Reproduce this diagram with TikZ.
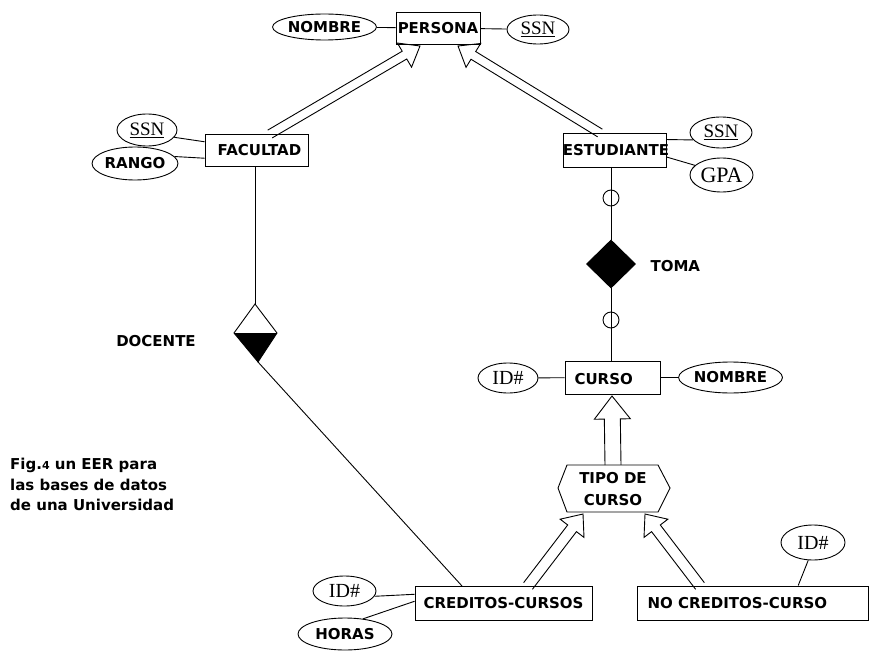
\documentclass[tikz,border=0pt]{standalone}
\usepackage{fontspec}
\usetikzlibrary{calc,shapes.geometric}
\newfontfamily\lbl{DejaVu Sans}
\newfontfamily\srf{Liberation Serif}
\newcommand\harrow[6]{%
 \coordinate (#1p) at ($(#3)!#5!(#2)$);
 \coordinate (#1l0) at ($(#2)!#4!90:(#3)$);
 \coordinate (#1l1) at ($(#1p)!#4!-90:(#2)$);
 \coordinate (#1l2) at ($(#1p)!#6!-90:(#2)$);
 \coordinate (#1r0) at ($(#2)!#4!-90:(#3)$);
 \coordinate (#1r1) at ($(#1p)!#4!90:(#2)$);
 \coordinate (#1r2) at ($(#1p)!#6!90:(#2)$);
 \draw[ln] (#1l0) -- (#1l1) -- (#1l2) -- (#3) -- (#1r2) -- (#1r1) -- (#1r0);
}
\tikzset{
 ln/.style={line width=0.9pt, line join=miter},
 ent/.style={draw, line width=0.9pt, inner sep=0pt, font=\lbl\bfseries\fontsize{15}{17}\selectfont},
 att/.style={draw, ellipse, line width=0.9pt, inner sep=0pt},
 bl/.style={font=\lbl\bfseries\fontsize{15}{17}\selectfont},
 sf/.style={font=\srf\fontsize{19}{21}\selectfont},
 ring/.style={draw, circle, line width=0.9pt, minimum size=16pt, inner sep=0pt},
}
\begin{document}
\begin{tikzpicture}[x=1pt,y=-1pt]
\useasboundingbox (0,0) rectangle (875,655);
% entities
\node[ent, minimum width=84pt, minimum height=32pt] (persona) at (438,28) {PERSONA};
\node[ent, minimum width=103pt, minimum height=32pt] (facultad) at (256.5,150) {\makebox[0pt]{\hspace*{6pt}FACULTAD}};
\node[ent, minimum width=103pt, minimum height=34pt] (estudiante) at (614.5,150) {\makebox[0pt]{\hspace*{3pt}ESTUDIANTE}};
\node[ent, minimum width=95pt, minimum height=33pt] (curso) at (612.5,377.5) {};
\node[bl, anchor=west] (cursot) at (571,379) {CURSO};
\node[ent, minimum width=177pt, minimum height=34pt] (creditos) at (503.5,603) {CREDITOS-CURSOS};
\node[ent, minimum width=231pt, minimum height=34pt] (nocreditos) at (752.5,603) {};
\node[bl, anchor=west] (nocreditost) at (644,603) {NO CREDITOS-CURSO};
% attributes
\node[att, minimum width=95pt, minimum height=26pt, bl] (nombreP) at (324.5,27) {NOMBRE};
\node[att, minimum width=62pt, minimum height=29pt, sf] (ssnP) at (538,29.5) {\underline{SSN}};
\node[att, minimum width=60pt, minimum height=32pt, sf] (ssnF) at (147,130) {\underline{SSN}};
\node[att, minimum width=80pt, minimum height=33pt, bl] (rango) at (135,163.5) {RANGO};
\node[att, minimum width=62pt, minimum height=31pt, sf] (ssnE) at (721,132.5) {\underline{SSN}};
\node[att, minimum width=63pt, minimum height=34pt, font=\srf\fontsize{22}{24}\selectfont] (gpa) at (721.5,175) {GPA};
\node[att, minimum width=60pt, minimum height=30pt, font=\srf\fontsize{20}{22}\selectfont] (idC) at (508,378) {ID\#};
\node[att, minimum width=95pt, minimum height=31pt, bl] (nombreC) at (730.5,377.5) {NOMBRE};
\node[att, minimum width=63pt, minimum height=30pt, font=\srf\fontsize{20}{22}\selectfont] (idCC) at (344.5,591) {ID\#};
\node[att, minimum width=94pt, minimum height=32pt, bl] (horas) at (345,634) {HORAS};
\node[att, minimum width=64pt, minimum height=35pt, font=\srf\fontsize{20}{22}\selectfont] (idNC) at (813,542.5) {ID\#};
% attribute links
\draw[ln] (nombreP) -- (persona);
\draw[ln] (persona) -- (ssnP);
\draw[ln] (ssnF.-15) -- ($(facultad.north west)!0.25!(facultad.south west)$);
\draw[ln] (rango.10) -- ($(facultad.north west)!0.75!(facultad.south west)$);
\draw[ln] ($(estudiante.north east)!0.2!(estudiante.south east)$) -- (ssnE.195);
\draw[ln] ($(estudiante.north east)!0.7!(estudiante.south east)$) -- (gpa.160);
\draw[ln] (idC) -- (curso);
\draw[ln] (curso) -- (nombreC);
\draw[ln] (idCC.-10) -- ($(creditos.north west)!0.25!(creditos.south west)$);
\draw[ln] (horas.40) -- ($(creditos.north west)!0.45!(creditos.south west)$);
\draw[ln] (idNC.-105) -- ($(nocreditos.north west)!0.697!(nocreditos.north east)$);
% TOMA relationship
\node[draw, fill=black, diamond, minimum width=49pt, minimum height=48pt, inner sep=0pt, line width=0.9pt] (toma) at (611,264) {};
\node[bl, anchor=west] (tomat) at (647,266) {TOMA};
\coordinate (estb) at (611,167);
\draw[ln] (estb) -- (toma.north);
\draw[ln] (toma.south) -- (toma.south |- curso.north);
\node[ring] (r1) at (611,198) {};
\node[ring] (r2) at (611,320) {};
% DOCENTE relationship
\coordinate (dt) at (255,304);
\coordinate (dl) at (234,333);
\coordinate (dr) at (277,333);
\coordinate (db) at (258,362);
\fill (dl) -- (dr) -- (db) -- cycle;
\draw[ln] (dt) -- (dr) -- (db) -- (dl) -- cycle;
\draw[ln] (dl) -- (dr);
\node[bl] (docentet) at (156,341) {DOCENTE};
\draw[ln] (facultad.south -| dt) -- (dt);
\coordinate (crtop) at (462,586);
\draw[ln] (db) -- (crtop);
% TIPO DE CURSO
\coordinate (h1) at (567,465);
\coordinate (h2) at (658,465);
\coordinate (h3) at (670,488);
\coordinate (h4) at (658,512);
\coordinate (h5) at (567,512);
\coordinate (h6) at (558,488);
\draw[ln] (h1) -- (h2) -- (h3) -- (h4) -- (h5) -- (h6) -- cycle;
\node[bl, align=center, font=\lbl\bfseries\fontsize{15}{22}\selectfont] (tipo) at (613,489) {TIPO DE\\CURSO};
% hollow arrows
\coordinate (s1) at (270,134);
\coordinate (a1) at (420,46);
\harrow{A}{s1}{a1}{4.5pt}{18pt}{14pt}
\coordinate (s2) at (600,133);
\coordinate (a2) at (458,46);
\harrow{B}{s2}{a2}{4.5pt}{18pt}{14pt}
\coordinate (s3) at (613,465);
\coordinate (a3) at (612,396);
\harrow{C}{s3}{a3}{8pt}{23pt}{18pt}
\coordinate (s4) at (528,586);
\coordinate (a4) at (583,514);
\harrow{D}{s4}{a4}{5.5pt}{18pt}{15pt}
\coordinate (s5) at (700,586);
\coordinate (a5) at (645,514);
\harrow{E}{s5}{a5}{5.5pt}{18pt}{15pt}
% caption
\node[anchor=north west, align=left, font=\lbl\bfseries\fontsize{15}{20.5}\selectfont, inner sep=0pt] (fig) at (10,458) {Fig.{\fontsize{11}{12}\selectfont 4} un EER para\\las bases de datos\\de una Universidad};
\end{tikzpicture}
\end{document}
